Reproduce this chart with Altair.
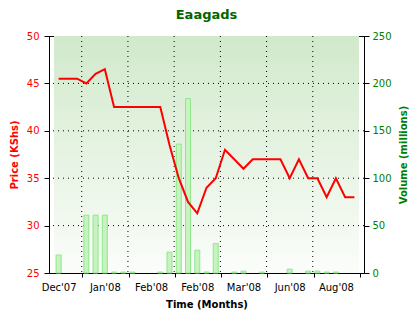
import json
import altair as alt
import pandas as pd

# ---- data ----
points = list(range(33))
price = [45.5, 45.5, 45.5, 45.0, 46.0, 46.5, 42.5, 42.5, 42.5, 42.5, 42.5,
         42.5, 38.5, 35.0, 32.5, 31.3, 34.0, 35.0, 38.0, 37.0, 36.0, 37.0,
         37.0, 37.0, 37.0, 35.0, 37.0, 35.0, 35.0, 33.0, 35.0, 33.0, 33.0]
volume = [19, 0, 0, 61, 61, 61, 1, 1, 1, 0, 0, 1, 22, 136, 184, 24, 1, 31,
          0, 1, 2, 0, 1, 0, 0, 4, 0, 2, 2, 1, 1, 0, 0]
label_points = [0, 5, 10, 15, 20, 25, 30]
label_texts = ["Dec'07", "Jan'08", "Feb'08", "Feb'08", "Mar'08", "Jun'08", "Aug'08"]
grid_points = [2.5, 7.5, 12.5, 17.5, 22.5, 27.5]
price_ticks = [25, 30, 35, 40, 45, 50]
price_grid = [30, 35, 40, 45]
volume_ticks = [0, 50, 100, 150, 200, 250]

W, H = 315, 237
unit = W / 33.0
off = 2.5 * unit
FONT = "DejaVu Sans"

df = pd.DataFrame({"i": points, "p": price, "v": volume})
df_bars = df[df["v"] > 0]
lab_arr = [""] * len(points)
for k, t in zip(label_points, label_texts):
    lab_arr[k] = t
label_expr = json.dumps(lab_arr) + "[datum.value]"

xscale = alt.Scale(domain=[-0.5, 32.5], nice=False, zero=False)
pscale = alt.Scale(domain=[25, 50], nice=False, zero=False)
vscale = alt.Scale(domain=[0, 250], nice=False, zero=True)

xaxis = alt.Axis(
    title="Time (Months)", values=label_points, labelExpr=label_expr,
    tickOffset=off, labelOffset=-off, tickSize=4, labelPadding=5,
    titlePadding=7, grid=False, labelColor="black", titleColor="black",
    domainColor="black", tickColor="black", labelFlush=False, labelAlign="center")

bg = alt.Chart(pd.DataFrame({"x0": [-0.5], "x1": [32.5], "y0": [25], "y1": [50]})).mark_rect(
    fill=alt.LinearGradient(
        gradient="linear",
        stops=[alt.GradientStop(color="#d1e9cb", offset=0),
               alt.GradientStop(color="#fbfdfa", offset=1)],
        x1=0, x2=0, y1=0, y2=1),
).encode(
    x=alt.X("x0:Q", scale=xscale, axis=xaxis), x2="x1",
    y=alt.Y("y0:Q", scale=pscale, axis=None), y2="y1",
)

vgrid = alt.Chart(pd.DataFrame({"g": grid_points})).mark_rule(
    color="black", strokeDash=[1, 4], strokeWidth=1
).encode(x=alt.X("g:Q", scale=xscale, axis=xaxis))

hgrid = alt.Chart(pd.DataFrame({"q": price_grid})).mark_rule(
    color="black", strokeDash=[1, 4], strokeWidth=1
).encode(y=alt.Y("q:Q", scale=pscale, axis=None))

bars = alt.Chart(df_bars).mark_bar(
    size=5, fill="#c6f3bf", stroke="#8ee88a", strokeWidth=1
).encode(
    x=alt.X("i:Q", scale=xscale, axis=xaxis),
    y=alt.Y("v:Q", scale=vscale, axis=alt.Axis(
        orient="right", title="Volume (millions)", values=volume_ticks,
        labelColor="#008000", titleColor="#008000", titleAngle=270,
        tickSize=5, labelPadding=3, titlePadding=17, grid=False,
        domainColor="black", tickColor="black")),
)

line = alt.Chart(df).mark_line(color="#ff0000", strokeWidth=2).encode(
    x=alt.X("i:Q", scale=xscale, axis=xaxis),
    y=alt.Y("p:Q", scale=pscale, axis=alt.Axis(
        orient="left", title="Price (KShs)", values=price_ticks,
        labelColor="#ff0000", titleColor="#ff0000",
        tickSize=5, labelPadding=5, titlePadding=7, grid=False,
        domainColor="black", tickColor="black")),
)

chart = alt.layer(bg, vgrid, hgrid, bars, line).resolve_scale(
    y="independent"
).properties(
    width=W, height=H,
    title=alt.TitleParams("Eaagads", font=FONT, fontSize=13, fontWeight="bold",
                          color="#006600", offset=9),
    autosize=alt.AutoSizeParams(type="none"),
    padding={"left": 49, "top": 36, "right": 56, "bottom": 47},
    background="white",
).configure_view(
    stroke="black", strokeWidth=1
).configure_axis(
    labelFont=FONT, labelFontSize=10, titleFont=FONT, titleFontSize=10,
    titleFontWeight="bold", domainWidth=1, tickWidth=1,
)

chart.save("out.html", embed_options={"renderer": "svg", "actions": False})
